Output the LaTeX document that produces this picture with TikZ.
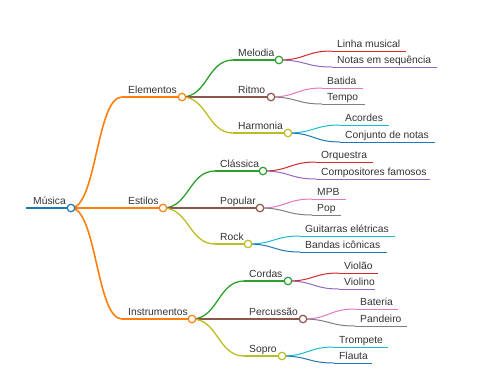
\documentclass[tikz,border=0pt]{standalone}
\usepackage{fontspec}
\setmainfont{Liberation Sans}
\usetikzlibrary{calc}
\definecolor{cblue}{HTML}{1F77B4}
\definecolor{corange}{HTML}{FF7F0E}
\definecolor{cgreen}{HTML}{2CA02C}
\definecolor{cbrown}{HTML}{8C564B}
\definecolor{colive}{HTML}{BCBD22}
\definecolor{cred}{HTML}{D62728}
\definecolor{cpurple}{HTML}{9467BD}
\definecolor{cpink}{HTML}{E377C2}
\definecolor{cgray}{HTML}{7F7F7F}
\definecolor{ccyan}{HTML}{17BECF}
\definecolor{txt}{HTML}{333333}
\tikzset{
  lab/.style={font=\fontsize{10.3}{12}\selectfont, text=txt, inner sep=0pt, anchor=base west},
  dot/.style={circle, draw=#1, fill=white, line width=1.2pt, minimum size=7.5pt, inner sep=0pt},
}
% name, start x, end x, y, colour, width, text, text offset
\newcommand{\mmitem}[8]{%
  \coordinate (#1-s) at (#2,#4);
  \coordinate (#1-e) at (#3,#4);
  \draw[#5, line width=#6] (#1-s) -- (#1-e);
  \node[lab] (#1-t) at ({#2+#8},{#4-4}) {#7};
}
% parent, child, colour, width
\newcommand{\mmlink}[4]{%
  \draw[#3, line width=#4] let \p1=(#1-e), \p2=(#2-s) in
    (\p1) .. controls ({(\x1+\x2)/2},\y1) and ({(\x1+\x2)/2},\y2) .. (\p2);
}
\begin{document}
\begin{tikzpicture}[x=1pt,y=-1pt]
\useasboundingbox (0,0) rectangle (480,384);
% root
\mmitem{mus}{26}{71}{208}{cblue}{2pt}{Música}{7}
% level 1
\mmitem{ele}{122}{182}{97}{corange}{1.6pt}{Elementos}{6}
\mmitem{est}{122}{163}{208}{corange}{1.6pt}{Estilos}{6}
\mmitem{ins}{122}{192}{319}{corange}{1.6pt}{Instrumentos}{6}
% level 2
\mmitem{mel}{233}{279}{60}{cgreen}{1.3pt}{Melodia}{5}
\mmitem{rit}{233}{271}{97}{cbrown}{1.3pt}{Ritmo}{5}
\mmitem{har}{233}{288}{133}{colive}{1.3pt}{Harmonia}{5}
\mmitem{cla}{215}{263}{171}{cgreen}{1.3pt}{Clássica}{5}
\mmitem{pop}{215}{260}{208}{cbrown}{1.3pt}{Popular}{5}
\mmitem{roc}{215}{248}{244}{colive}{1.3pt}{Rock}{5}
\mmitem{cor}{244}{288}{281}{cgreen}{1.3pt}{Cordas}{5}
\mmitem{per}{244}{303}{319}{cbrown}{1.3pt}{Percussão}{5}
\mmitem{sop}{244}{282}{356}{colive}{1.3pt}{Sopro}{5}
% level 3
\mmitem{lin}{332}{406}{51}{cred}{1pt}{Linha musical}{5}
\mmitem{not}{332}{437}{67}{cpurple}{1pt}{Notas em sequência}{5}
\mmitem{bat}{322}{363}{88}{cpink}{1pt}{Batida}{5}
\mmitem{tem}{322}{365}{104}{cgray}{1pt}{Tempo}{5}
\mmitem{aco}{340}{389}{125}{ccyan}{1pt}{Acordes}{5}
\mmitem{con}{340}{435}{142}{cblue}{1pt}{Conjunto de notas}{5}
\mmitem{orq}{316}{373}{162}{cred}{1pt}{Orquestra}{5}
\mmitem{com}{316}{430}{179}{cpurple}{1pt}{Compositores famosos}{5}
\mmitem{mpb}{312}{346}{199}{cpink}{1pt}{MPB}{5}
\mmitem{pp}{312}{341}{215}{cgray}{1pt}{Pop}{5}
\mmitem{gui}{300}{395}{236}{ccyan}{1pt}{Guitarras elétricas}{5}
\mmitem{ban}{300}{387}{252}{cblue}{1pt}{Bandas icônicas}{5}
\mmitem{vla}{339}{378}{273}{cred}{1pt}{Violão}{5}
\mmitem{vli}{339}{375}{289}{cpurple}{1pt}{Violino}{5}
\mmitem{bte}{355}{398}{309}{cpink}{1pt}{Bateria}{5}
\mmitem{pan}{355}{407}{326}{cgray}{1pt}{Pandeiro}{5}
\mmitem{tro}{334}{388}{347}{ccyan}{1pt}{Trompete}{5}
\mmitem{fla}{334}{372}{363}{cblue}{1pt}{Flauta}{5}
% links
\mmlink{mus}{ele}{corange}{1.6pt}
\mmlink{mus}{est}{corange}{1.6pt}
\mmlink{mus}{ins}{corange}{1.6pt}
\mmlink{ele}{mel}{cgreen}{1.3pt}
\mmlink{ele}{rit}{cbrown}{1.3pt}
\mmlink{ele}{har}{colive}{1.3pt}
\mmlink{est}{cla}{cgreen}{1.3pt}
\mmlink{est}{pop}{cbrown}{1.3pt}
\mmlink{est}{roc}{colive}{1.3pt}
\mmlink{ins}{cor}{cgreen}{1.3pt}
\mmlink{ins}{per}{cbrown}{1.3pt}
\mmlink{ins}{sop}{colive}{1.3pt}
\mmlink{mel}{lin}{cred}{1pt}
\mmlink{mel}{not}{cpurple}{1pt}
\mmlink{rit}{bat}{cpink}{1pt}
\mmlink{rit}{tem}{cgray}{1pt}
\mmlink{har}{aco}{ccyan}{1pt}
\mmlink{har}{con}{cblue}{1pt}
\mmlink{cla}{orq}{cred}{1pt}
\mmlink{cla}{com}{cpurple}{1pt}
\mmlink{pop}{mpb}{cpink}{1pt}
\mmlink{pop}{pp}{cgray}{1pt}
\mmlink{roc}{gui}{ccyan}{1pt}
\mmlink{roc}{ban}{cblue}{1pt}
\mmlink{cor}{vla}{cred}{1pt}
\mmlink{cor}{vli}{cpurple}{1pt}
\mmlink{per}{bte}{cpink}{1pt}
\mmlink{per}{pan}{cgray}{1pt}
\mmlink{sop}{tro}{ccyan}{1pt}
\mmlink{sop}{fla}{cblue}{1pt}
% circles
\node[dot=cblue] (mus) at (mus-e) {};
\node[dot=corange] (ele) at (ele-e) {};
\node[dot=corange] (est) at (est-e) {};
\node[dot=corange] (ins) at (ins-e) {};
\node[dot=cgreen] (mel) at (mel-e) {};
\node[dot=cbrown] (rit) at (rit-e) {};
\node[dot=colive] (har) at (har-e) {};
\node[dot=cgreen] (cla) at (cla-e) {};
\node[dot=cbrown] (pop) at (pop-e) {};
\node[dot=colive] (roc) at (roc-e) {};
\node[dot=cgreen] (cor) at (cor-e) {};
\node[dot=cbrown] (per) at (per-e) {};
\node[dot=colive] (sop) at (sop-e) {};
\end{tikzpicture}
\end{document}
